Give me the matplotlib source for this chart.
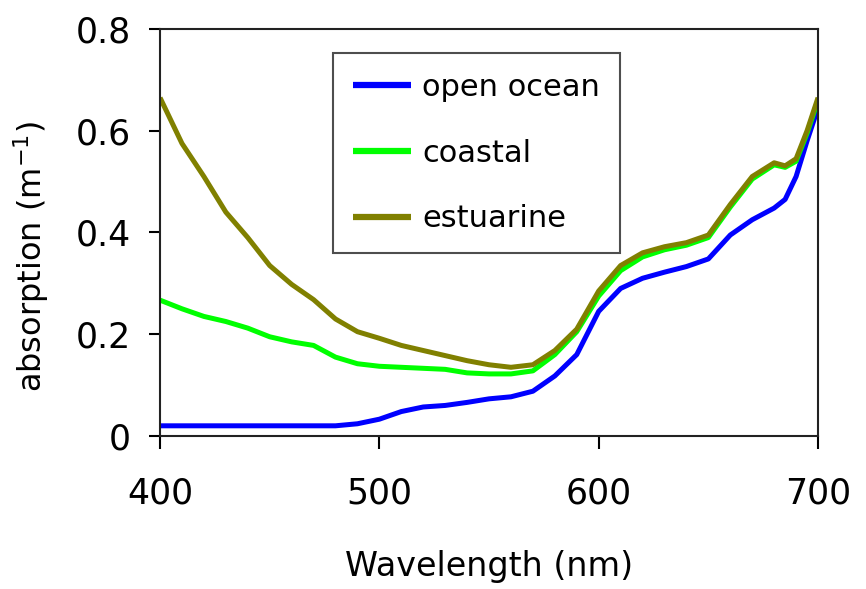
import numpy as np
import matplotlib
matplotlib.use("Agg")
import matplotlib.pyplot as plt

# wavelength grid (nm) and absorption (m^-1)
wavelength = [400, 410, 420, 430, 440, 450, 460, 470, 480, 490, 500,
              510, 520, 530, 540, 550, 560, 570, 580, 590, 600,
              610, 620, 630, 640, 650, 660, 670, 680, 685, 690, 695, 700]

open_ocean = [0.020, 0.020, 0.020, 0.020, 0.020, 0.020, 0.020, 0.020, 0.020, 0.024, 0.033,
              0.048, 0.057, 0.060, 0.066, 0.073, 0.077, 0.088, 0.118, 0.160, 0.245,
              0.290, 0.310, 0.322, 0.333, 0.348, 0.395, 0.425, 0.448, 0.465, 0.510, 0.580, 0.645]

coastal = [0.267, 0.250, 0.235, 0.225, 0.212, 0.195, 0.185, 0.178, 0.155, 0.142, 0.137,
           0.135, 0.133, 0.131, 0.124, 0.122, 0.122, 0.128, 0.160, 0.205, 0.275,
           0.325, 0.352, 0.366, 0.375, 0.390, 0.450, 0.505, 0.533, 0.528, 0.540, 0.595, 0.660]

estuarine = [0.665, 0.575, 0.510, 0.440, 0.390, 0.335, 0.298, 0.268, 0.230, 0.205, 0.192,
             0.178, 0.168, 0.158, 0.148, 0.140, 0.135, 0.140, 0.168, 0.210, 0.285,
             0.335, 0.360, 0.372, 0.380, 0.395, 0.455, 0.510, 0.537, 0.531, 0.545, 0.600, 0.665]

series_names = ["open ocean", "coastal", "estuarine"]
series_colors = ["#0000ff", "#00ff00", "#808000"]

plt.rcParams['font.family'] = ['DejaVu Sans']

fig = plt.figure(figsize=(8.66, 5.89), dpi=100)
ax = fig.add_axes([0.1848, 0.2598, 0.7598, 0.6910])

for vals, name, col in zip([open_ocean, coastal, estuarine], series_names, series_colors):
    ax.plot(wavelength, vals, color=col, lw=3.6, label=name,
            solid_joinstyle='round', solid_capstyle='butt')

ax.set_xlim(400, 700)
ax.set_ylim(0, 0.8)
ax.set_xticks([400, 500, 600, 700])
ax.set_yticks([0, 0.2, 0.4, 0.6, 0.8])
ax.set_yticklabels(["0", "0.2", "0.4", "0.6", "0.8"])

for sp in ax.spines.values():
    sp.set_linewidth(1.5)
    sp.set_color("#222222")

ax.tick_params(axis='x', direction='out', length=9.5, width=1.5, labelsize=25, pad=20)
ax.tick_params(axis='y', direction='out', length=8, width=1.5, labelsize=25, pad=13)

ax.set_xlabel("Wavelength (nm)", fontsize=24)
ax.set_ylabel("absorption (m$^{-1}$)", fontsize=23)
ax.xaxis.set_label_coords(0.5, -0.28)
ax.yaxis.set_label_coords(-0.165, 0.44)

leg = ax.legend(loc='upper left', bbox_to_anchor=(0.385, 0.91), bbox_transform=fig.transFigure,
                borderaxespad=0, fontsize=22, frameon=True, fancybox=False,
                handlelength=1.9, handletextpad=0.35, labelspacing=1.2,
                borderpad=0.65)
leg.get_frame().set_edgecolor("#222222")
leg.get_frame().set_linewidth(1.5)
for line in leg.get_lines():
    line.set_linewidth(4.5)

fig.savefig("out.png", dpi=100)
